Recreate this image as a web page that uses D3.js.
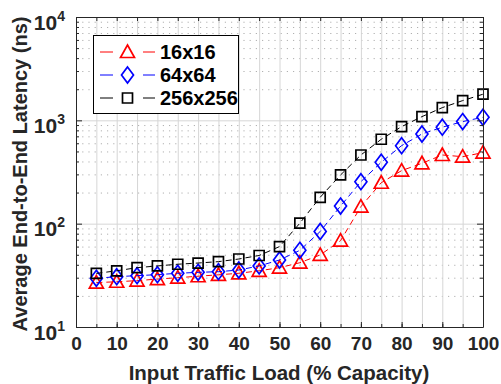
<!DOCTYPE html>
<html>
<head>
<meta charset="utf-8">
<script src="https://cdn.jsdelivr.net/npm/d3@7"></script>
<style>
  body { margin: 0; background: #fff; }
  svg { display: block; font-family: "Liberation Sans", Arial, sans-serif; font-weight: bold; }
</style>
</head>
<body>
<div id="chart"></div>
<script>
//DATA
const load = [5, 10, 15, 20, 25, 30, 35, 40, 45, 50, 55, 60, 65, 70, 75, 80, 85, 90, 95, 100];
const lat16 = [26.9, 27.4, 28.1, 29.1, 30.0, 31.0, 32.0, 33.1, 35.0, 37.5, 41.9, 49.8, 68.5, 146, 249, 326, 384, 462, 445, 487];
const lat64 = [29.6, 30.7, 31.4, 32.1, 33.1, 33.8, 34.3, 35.6, 39.0, 44.5, 55.2, 84, 148, 255, 393, 569, 738, 858, 972, 1072];
const lat256 = [33, 35, 37.5, 39, 40.5, 41.6, 42.9, 45.5, 49.2, 60, 101, 180, 296, 462, 656, 869, 1086, 1327, 1552, 1790];
const seriesNames = ['16x16', '64x64', '256x256'];
const xTicks = [0, 10, 20, 30, 40, 50, 60, 70, 80, 90, 100];
const yTicks = [10, 100, 1000, 10000];

const W = 501, H = 384;
const plotL = 76, plotR = 483, plotT = 17, plotB = 327;

const x = d3.scaleLinear().domain([0, 100]).range([plotL, plotR]);
const y = d3.scaleLog().domain([10, 10000]).range([plotB, plotT]);

const svg = d3.select('#chart').append('svg').attr('width', W).attr('height', H);

// minor log values
const yMinor = [];
[10, 100, 1000].forEach(d => { for (let k = 2; k <= 9; k++) yMinor.push(d * k); });
const xGrid = d3.range(0, 101, 5);

//GRID
svg.append('g').attr('transform', `translate(${plotL},0)`)
  .call(d3.axisLeft(y).tickValues(yMinor).tickSize(-(plotR - plotL)).tickFormat(''))
  .call(g => g.select('.domain').remove())
  .selectAll('line').attr('stroke', '#b0b0b0').attr('stroke-dasharray', '1.2,5');

svg.append('g').attr('transform', `translate(0,${plotB})`)
  .call(d3.axisBottom(x).tickValues(xGrid).tickSize(-(plotB - plotT)).tickFormat(''))
  .call(g => g.select('.domain').remove())
  .selectAll('line').attr('stroke', '#d6d6d6');

svg.append('g').attr('transform', `translate(${plotL},0)`)
  .call(d3.axisLeft(y).tickValues(yTicks).tickSize(-(plotR - plotL)).tickFormat(''))
  .call(g => g.select('.domain').remove())
  .selectAll('line').attr('stroke', '#d6d6d6');

//SERIES
const series = [
  { name: seriesNames[0], values: lat16, color: '#ff0000', shape: 'tri' },
  { name: seriesNames[1], values: lat64, color: '#0000ff', shape: 'dia' },
  { name: seriesNames[2], values: lat256, color: '#000000', shape: 'sq' }
];

function marker(sel, shape, color) {
  let p;
  if (shape === 'tri') p = 'M0,-7L7,5.5L-7,5.5Z';
  else if (shape === 'dia') p = 'M0,-8L6,0L0,8L-6,0Z';
  else p = 'M-5,-5L5,-5L5,5L-5,5Z';
  sel.append('path').attr('d', p).attr('fill', 'none')
    .attr('stroke', color).attr('stroke-width', 1.7);
}

const line = d3.line().x((d, i) => x(load[i])).y(d => y(d));

series.forEach(s => {
  svg.append('path').datum(s.values)
    .attr('d', line).attr('fill', 'none')
    .attr('stroke', s.color).attr('stroke-width', 1)
    .attr('stroke-dasharray', '6,4');
  svg.append('g').selectAll('g').data(s.values).enter().append('g')
    .attr('transform', (d, i) => `translate(${x(load[i])},${y(d)})`)
    .each(function () { marker(d3.select(this), s.shape, s.color); });
});

//AXES
const axisColor = '#262626';
function styleAxis(g) {
  g.selectAll('path, line').attr('stroke', axisColor);
  g.selectAll('text').attr('fill', axisColor).style('font-size', '19px').style('font-weight', 'bold');
}

// bottom
svg.append('g').attr('transform', `translate(0,${plotB})`)
  .call(d3.axisBottom(x).tickValues(xTicks).tickSizeInner(-5).tickSizeOuter(0).tickPadding(10))
  .call(styleAxis);
svg.append('g').attr('transform', `translate(0,${plotB})`)
  .call(d3.axisBottom(x).tickValues(xGrid).tickSizeInner(-3).tickSizeOuter(0).tickFormat(''))
  .call(styleAxis).call(g => g.select('.domain').remove());
// top
svg.append('g').attr('transform', `translate(0,${plotT})`)
  .call(d3.axisTop(x).tickValues(xGrid).tickSizeInner(-4).tickSizeOuter(0).tickFormat(''))
  .call(styleAxis);

// left
const yAxis = svg.append('g').attr('transform', `translate(${plotL},0)`)
  .call(d3.axisLeft(y).tickValues(yTicks).tickSizeInner(-6).tickSizeOuter(0).tickPadding(11).tickFormat(() => '10'))
  .call(styleAxis);
yAxis.selectAll('.tick text')
  .attr('dy', null).attr('y', 12)
  .style('font-size', '21px')
  .each(function (d) {
    d3.select(this).append('tspan').attr('dy', -9).style('font-size', '14px')
      .text(Math.round(Math.log10(d)));
  });
svg.append('g').attr('transform', `translate(${plotL},0)`)
  .call(d3.axisLeft(y).tickValues(yMinor).tickSizeInner(-3).tickSizeOuter(0).tickFormat(''))
  .call(styleAxis).call(g => g.select('.domain').remove());
// right
svg.append('g').attr('transform', `translate(${plotR},0)`)
  .call(d3.axisRight(y).tickValues(yTicks).tickSizeInner(-6).tickSizeOuter(0).tickFormat(''))
  .call(styleAxis);
svg.append('g').attr('transform', `translate(${plotR},0)`)
  .call(d3.axisRight(y).tickValues(yMinor).tickSizeInner(-3).tickSizeOuter(0).tickFormat(''))
  .call(styleAxis).call(g => g.select('.domain').remove());

//LABELS
svg.append('text').attr('x', 279).attr('y', 380)
  .attr('text-anchor', 'middle').attr('fill', axisColor).style('font-size', '20.5px')
  .text('Input Traffic Load (% Capacity)');
svg.append('text').attr('transform', `translate(27,${(plotT + plotB) / 2 + 2}) rotate(-90)`)
  .attr('text-anchor', 'middle').attr('fill', axisColor).style('font-size', '20px')
  .text('Average End-to-End Latency (ns)');

//LEGEND
const leg = svg.append('g');
leg.append('rect').attr('x', 93.5).attr('y', 35.5).attr('width', 145).attr('height', 78)
  .attr('fill', '#fff').attr('stroke', '#000').attr('stroke-width', 1);
series.forEach((s, i) => {
  const cy = 52 + i * 23;
  leg.append('line').attr('x1', 100).attr('x2', 113).attr('y1', cy).attr('y2', cy)
    .attr('stroke', s.color).attr('stroke-width', 1);
  leg.append('line').attr('x1', 143).attr('x2', 155).attr('y1', cy).attr('y2', cy)
    .attr('stroke', s.color).attr('stroke-width', 1);
  const m = leg.append('g').attr('transform', `translate(127.5,${cy})`);
  marker(m, s.shape, s.color);
  leg.append('text').attr('x', 160).attr('y', cy + 7).attr('fill', '#000')
    .style('font-size', '20px').text(s.name);
});
</script>
</body>
</html>
